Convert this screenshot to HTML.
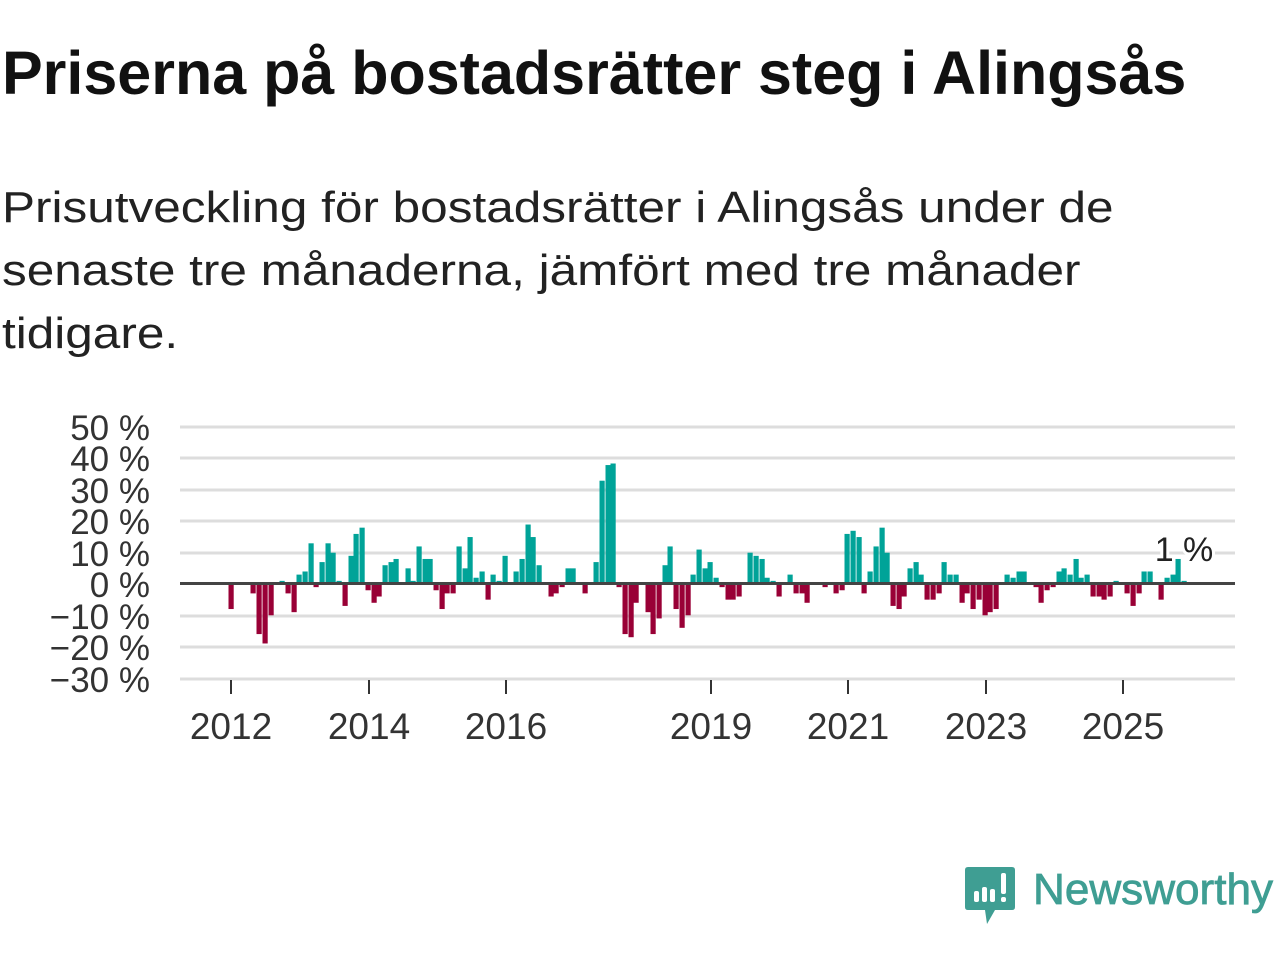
<!DOCTYPE html>
<html><head><meta charset="utf-8"><style>
html,body{margin:0;padding:0;background:#fff;width:1280px;height:960px;overflow:hidden;font-family:"Liberation Sans",sans-serif;color:#111}
.t{position:absolute;left:2px;top:38px;font-size:61px;font-weight:bold;white-space:nowrap;color:#111}
.s{position:absolute;left:2px;top:176px;font-size:44px;line-height:63px;color:#222;transform:scaleX(1.125);transform-origin:0 0;white-space:nowrap}
</style></head><body>
<div class="t">Priserna på bostadsrätter steg i Alingsås</div>
<div class="s">Prisutveckling för bostadsrätter i Alingsås under de<br>senaste tre månaderna, jämfört med tre månader<br>tidigare.</div>
<svg id="c" width="1280" height="960" style="position:absolute;left:0;top:0" xmlns="http://www.w3.org/2000/svg" font-family="Liberation Sans, sans-serif">
<g stroke="#ddd" stroke-width="3">
<line x1="180" x2="1235" y1="427" y2="427"/><line x1="180" x2="1235" y1="458" y2="458"/>
<line x1="180" x2="1235" y1="490" y2="490"/><line x1="180" x2="1235" y1="521" y2="521"/>
<line x1="180" x2="1235" y1="553" y2="553"/><line x1="180" x2="1235" y1="616" y2="616"/>
<line x1="180" x2="1235" y1="647" y2="647"/><line x1="180" x2="1235" y1="679" y2="679"/>
</g>
<g font-size="35" fill="#333" text-anchor="end">
<text x="150" y="440">50 %</text><text x="150" y="471">40 %</text><text x="150" y="503">30 %</text>
<text x="150" y="534">20 %</text><text x="150" y="566">10 %</text><text x="150" y="597">0 %</text>
<text x="150" y="629">−10 %</text><text x="150" y="660">−20 %</text><text x="150" y="692">−30 %</text>
</g>
<g stroke="#333" stroke-width="2">
<line x1="231" x2="231" y1="680" y2="694"/><line x1="369" x2="369" y1="680" y2="694"/>
<line x1="506" x2="506" y1="680" y2="694"/><line x1="711" x2="711" y1="680" y2="694"/>
<line x1="848" x2="848" y1="680" y2="694"/><line x1="986" x2="986" y1="680" y2="694"/>
<line x1="1123" x2="1123" y1="680" y2="694"/>
</g>
<g font-size="37" fill="#333" text-anchor="middle">
<text x="231" y="739">2012</text><text x="369" y="739">2014</text><text x="506" y="739">2016</text>
<text x="711" y="739">2019</text><text x="848" y="739">2021</text><text x="986" y="739">2023</text>
<text x="1123" y="739">2025</text>
</g>
<g id="bars"></g>
<line x1="180" x2="1235" y1="583.5" y2="583.5" stroke="#444" stroke-width="3"/>
<text x="1184" y="561" font-size="34" fill="#222" text-anchor="middle" stroke="#fff" stroke-width="6" paint-order="stroke">1 %</text>
<g transform="translate(965,867)">
<path d="M3 0 H47 Q50 0 50 3 V40 Q50 43 47 43 H30 L22 57 L20 43 H3 Q0 43 0 40 V3 Q0 0 3 0Z" fill="#3f9e93"/>
<rect x="9" y="24" width="5" height="11" rx="2" fill="#fff"/><rect x="17" y="20" width="5" height="15" rx="2" fill="#fff"/>
<rect x="25" y="22" width="5" height="13" rx="2" fill="#fff"/><rect x="36" y="6" width="5" height="21" rx="2" fill="#fff"/>
<rect x="36" y="30" width="5" height="5" rx="2" fill="#fff"/>
</g>
<text x="1033" y="904" font-size="44" fill="#3f9e93" stroke="#3f9e93" stroke-width="0.8" textLength="240" lengthAdjust="spacingAndGlyphs">Newsworthy</text>
</svg>
<script>
var d=[[231,-8],[253,-3],[259,-16],[265,-19],[271,-10],[282,1],[288,-3],[294,-9],[299,3],[305,4],[311,13],[316,-1],[322,7],[328,13],[333,10],[339,1],[345,-7],[351,9],[356,16],[362,18],[368,-2],[374,-6],[379,-4],[385,6],[391,7],[396,8],[408,5],[413,1],[419,12],[425,8],[430,8],[436,-2],[442,-8],[447,-3],[453,-3],[459,12],[465,5],[470,15],[476,2],[482,4],[488,-5],[493,3],[499,1],[505,9],[516,4],[522,8],[528,19],[533,15],[539,6],[551,-4],[556,-3],[562,-1],[568,5],[573,5],[585,-3],[596,7],[602,33],[608,38],[613,38.5],[619,-1],[625,-16],[631,-17],[636,-6],[648,-9],[653,-16],[659,-11],[665,6],[670,12],[676,-8],[682,-14],[688,-10],[693,3],[699,11],[705,5],[710,7],[716,2],[722,-1],[728,-5],[733,-5],[739,-4],[750,10],[756,9],[762,8],[767,2],[773,1],[779,-4],[790,3],[796,-3],[802,-3],[807,-6],[825,-1],[836,-3],[842,-2],[847,16],[853,17],[859,15],[864,-3],[870,4],[876,12],[882,18],[887,10],[893,-7],[899,-8],[904,-4],[910,5],[916,7],[921,3],[927,-5],[933,-5],[939,-3],[944,7],[950,3],[956,3],[962,-6],[967,-3],[973,-8],[979,-5],[985,-10],[990,-9],[996,-8],[1007,3],[1013,2],[1019,4],[1024,4],[1036,-1],[1041,-6],[1047,-2],[1053,-1],[1059,4],[1064,5],[1070,3],[1076,8],[1081,2],[1087,3],[1093,-4],[1099,-4],[1104,-5],[1110,-4],[1116,1],[1127,-3],[1133,-7],[1139,-3],[1144,4],[1150,4],[1161,-5],[1167,2],[1173,3],[1178,8],[1184,1]];
var s='',k=3.13,z=584;
d.forEach(function(b){var h=Math.abs(b[1])*k,y=b[1]>0?z-h:z;s+='<rect x="'+(b[0]-2.5)+'" y="'+y+'" width="5.2" height="'+h+'" fill="'+(b[1]>0?'#00a398':'#990036')+'"/>';});
document.getElementById('bars').innerHTML=s;
</script>
</body></html>
